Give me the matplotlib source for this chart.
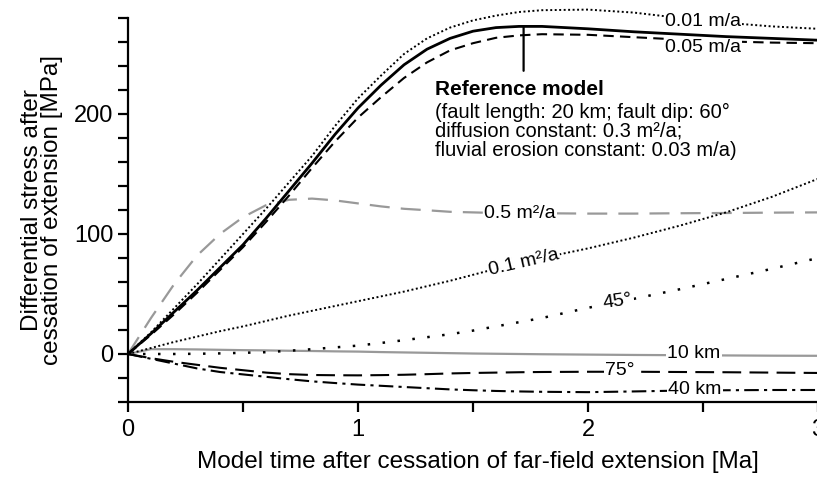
import numpy as np
import matplotlib
matplotlib.use("Agg")
import matplotlib.pyplot as plt
from matplotlib import font_manager
from matplotlib.ticker import MultipleLocator

# model time [Ma]
t = [0, 0.1, 0.2, 0.3, 0.4, 0.5, 0.6, 0.7, 0.8, 0.9, 1.0, 1.1, 1.2, 1.3, 1.4,
     1.5, 1.6, 1.7, 1.8, 2.0, 2.2, 2.4, 2.6, 2.8, 3.0]

# differential stress [MPa]
ref_model = [0, 17, 35, 53, 72, 91, 113, 136, 159, 183, 205, 224, 241, 254, 263,
             269, 272, 273, 273, 271, 268.5, 266.5, 264.5, 263, 261.5]
eros_001 = [0, 18, 38, 58, 79, 100, 121, 143, 165, 190, 213, 232, 250, 263, 272,
            278, 282, 285, 286.5, 287, 284.5, 280, 276, 273, 271]
eros_005 = [0, 16, 33, 51, 70, 89, 110, 132, 155, 177, 197, 214, 230, 243, 253,
            259, 263.5, 265.5, 266.5, 266, 264, 262, 260.5, 259.5, 259]
diff_05 = [0, 30, 58, 82, 100, 114, 124, 128.5, 129.5, 128, 125.5, 123, 121, 119.8, 118.5,
           118, 117.5, 117.4, 117.3, 117, 117, 117.3, 117.5, 117.8, 118]
diff_01 = [0, 5, 10, 14.5, 19, 23, 27.5, 32, 36, 40, 44, 48, 52, 56.5, 61,
           66, 71, 75.5, 80, 88, 97, 107, 118, 131, 146]
dip_45 = [0, 0, 0, 0.2, 0.5, 1, 1.5, 2.7, 4, 5.5, 7, 9.2, 11.5, 14, 16.5,
          19.5, 23, 26.5, 30, 38.5, 46, 54, 62.5, 71, 80]
len_10 = [0, 4, 4, 3.8, 3.5, 3.2, 3, 2.7, 2.5, 2.2, 2, 1.6, 1.3, 1, 0.7,
          0.4, 0.2, 0, -0.2, -0.5, -0.8, -1, -1.2, -1.4, -1.5]
dip_75 = [0, -3.5, -6.5, -9, -11.5, -13.5, -15.5, -16.8, -17.5, -17.7, -17.8, -17.6, -17.3, -16.8, -16.2,
          -15.8, -15.5, -15.2, -15, -14.8, -14.8, -15, -15.2, -15.5, -15.8]
len_40 = [0, -4, -8, -12, -15, -17, -19, -21, -22.8, -24.2, -25.5, -26.5, -27.5, -28.5, -29.5,
          -30.2, -30.8, -31.2, -31.5, -31.8, -31.2, -30.5, -30.2, -30, -30]

names = [f.name for f in font_manager.fontManager.ttflist]
fam = 'Liberation Sans Narrow' if 'Liberation Sans Narrow' in names else 'Liberation Sans'
plt.rcParams['font.family'] = [fam, 'DejaVu Sans']

fig = plt.figure(figsize=(8.17, 4.79), dpi=100)
ax = fig.add_axes([128/817, 77/479, 690/817, 384/479])

grey = '#999999'
kw = dict(clip_on=False)
ax.plot(t, diff_05, color=grey, lw=1.6, ls=(0, (9, 5)), **kw)
ax.plot(t, len_10, color=grey, lw=1.6, **kw)
ax.plot(t, diff_01, color='k', lw=1.4, ls=(0, (1, 1.3)), **kw)
ax.plot(t, dip_45, color='k', lw=1.8, ls=(0, (1, 5)), **kw)
ax.plot(t, dip_75, color='k', lw=1.5, ls=(0, (9, 4)), **kw)
ax.plot(t, len_40, color='k', lw=1.5, ls=(0, (7, 2.5, 1.5, 2.5)), **kw)
ax.plot(t, eros_005, color='k', lw=1.5, ls=(0, (5, 3)), **kw)
ax.plot(t, eros_001, color='k', lw=1.4, ls=(0, (1, 1.3)), **kw)
ax.plot(t, ref_model, color='k', lw=2.0, zorder=5, **kw)

ax.set_xlim(0, 3)
ax.set_ylim(-40, 280)
ax.xaxis.set_major_locator(MultipleLocator(1))
ax.xaxis.set_minor_locator(MultipleLocator(0.5))
ax.yaxis.set_major_locator(MultipleLocator(100))
ax.yaxis.set_minor_locator(MultipleLocator(20))
for s in ['top', 'right']:
    ax.spines[s].set_visible(False)
for s in ['left', 'bottom']:
    ax.spines[s].set_linewidth(1.6)
ax.tick_params(which='both', direction='out', length=7, width=1.6, labelsize=17)
ax.tick_params(axis='x', pad=5)

lab = dict(fontsize=14, ha='center', va='center', zorder=4,
           bbox=dict(facecolor='white', edgecolor='none', pad=1.0))
ax.text(2.5, 277, '0.01 m/a', **lab)
ax.text(2.5, 255, '0.05 m/a', **lab)
ax.text(1.705, 117, '0.5 m²/a', **lab)
ax.text(1.72, 76, '0.1 m²/a', rotation=13, **lab)
ax.text(2.13, 44, '45°', rotation=8, **lab)
ax.text(2.46, 0, '10 km', **lab)
ax.text(2.14, -14, '75°', **lab)
ax.text(2.465, -30, '40 km', **lab)

ax.annotate('', xy=(1.72, ref_model[17]), xytext=(1.72, 236),
            arrowprops=dict(arrowstyle='-', color='k', lw=1.6, shrinkA=0, shrinkB=0))
ax.text(1.335, 228, 'Reference model', fontsize=15, fontweight='bold', va='top', ha='left')
ax.text(1.335, 209, '(fault length: 20 km; fault dip: 60°\n'
        'diffusion constant: 0.3 m²/a;\n'
        'fluvial erosion constant: 0.03 m/a)',
        fontsize=14.5, va='top', ha='left', linespacing=0.98)

fig.text(0.585, 1 - 462/479, 'Model time after cessation of far-field extension [Ma]',
         fontsize=17.5, ha='center', va='center')
fig.text(42/817, 1 - 210/479, 'Differential stress after\ncessation of extension [MPa]',
         fontsize=17.5, ha='center', va='center', rotation=90, linespacing=0.88)

fig.savefig('out.png', dpi=100)
